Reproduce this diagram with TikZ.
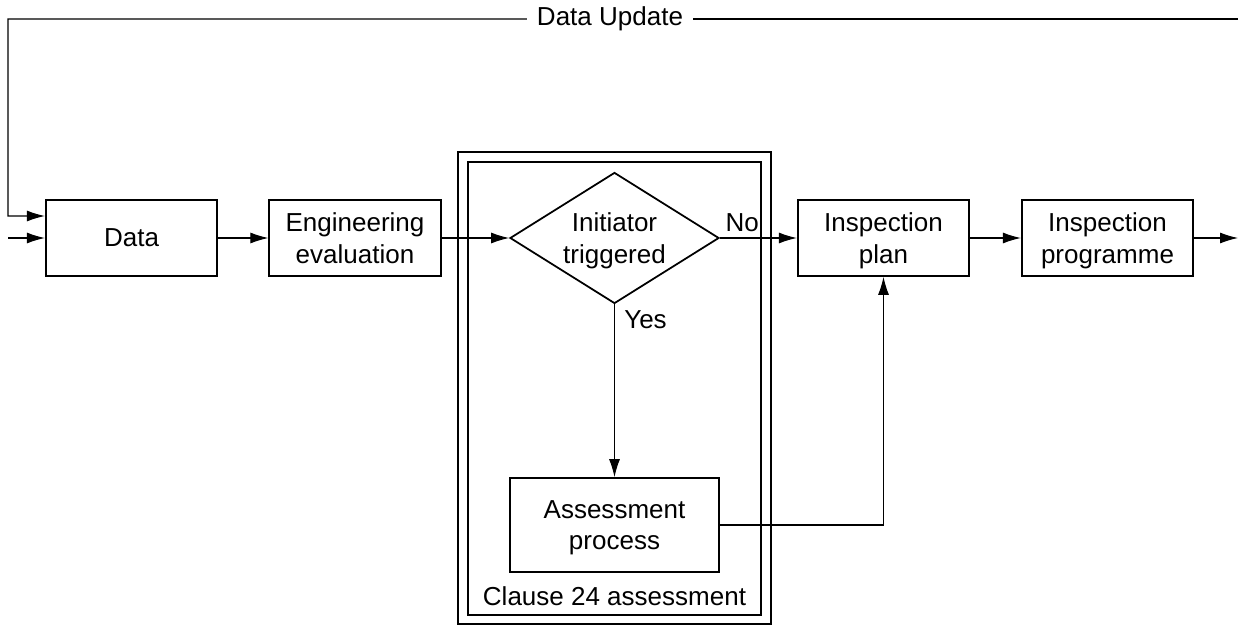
\documentclass[tikz,border=0pt]{standalone}
\usepackage{fontspec}
\setmainfont{Liberation Sans}
\usetikzlibrary{arrows.meta,shapes.geometric}

\tikzset{
  box/.style={draw, line width=1pt, minimum width=3.43cm, minimum height=1.52cm, align=center, text depth=0pt},
  arr/.style={-{Latex[length=3.6mm,width=2.2mm]}, line width=0.6pt},
}

\begin{document}
\begin{tikzpicture}[font=\fontsize{14.8}{18}\selectfont]
  \useasboundingbox (0,0) rectangle (24.76,12.52);
  % clause 24 frame
  \draw[line width=1pt] (9.16,0.04) rectangle (15.42,9.48);
  \draw[line width=1pt] (9.36,0.22) rectangle (15.22,9.28);

  \node[box] (data) at (2.63,7.76) {Data};
  \node[box] (eng) at (7.10,7.76) {Engineering\\evaluation};
  \node[draw, diamond, line width=1pt, aspect=1.6, inner sep=0pt, minimum width=4.18cm,
        minimum height=2.62cm, align=center, text depth=0pt] (init) at (12.29,7.76) {Initiator\\triggered};
  \node[box] (plan) at (17.67,7.76) {Inspection\\plan};
  \node[box] (prog) at (22.15,7.76) {Inspection\\programme};
  \node[box, minimum width=4.18cm, minimum height=1.88cm] (assess) at (12.29,2.02) {Assessment\\process};
  \node (clause) at (12.29,0.60) {Clause 24 assessment};

  \foreach \a/\b in {data/eng, eng/init, plan/prog}
    \draw[arr] (\a) -- (\b);
  \draw[arr] (init) -- node[pos=0, above right, inner sep=3pt] (no) {No} (plan);
  \draw[arr] (init) -- node[pos=0, below right, inner sep=3pt, xshift=0.08cm] (yes) {Yes} (assess);
  \draw[arr] (assess) -| (plan);

  % inputs, output and update loop
  \coordinate (in) at (0.16,7.76);
  \coordinate (out) at (24.76,7.76);
  \coordinate (updend) at (24.76,12.14);
  \draw[arr] (in) -- (data);
  \draw[arr] (prog) -- (out);
  \node[inner xsep=5.5pt] (upd) at (12.2,12.14) {Data Update};
  \draw[line width=0.6pt] (upd) -- (updend);
  \draw[arr] (upd) -| (0.16,8.20) -- ([yshift=0.44cm]data.west);
\end{tikzpicture}
\end{document}
